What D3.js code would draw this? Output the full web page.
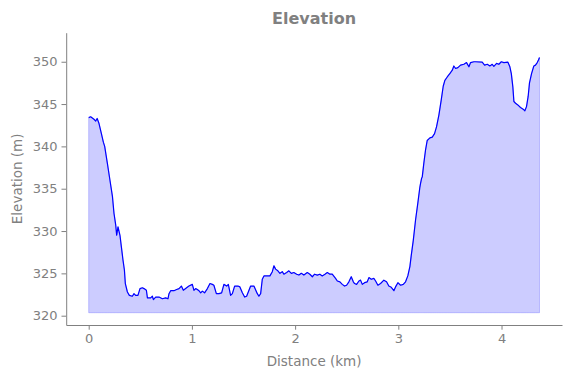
<!DOCTYPE html>
<html lang="en">
    <head>
        <meta charset="utf-8">
        <title>Elevation</title>
        <script src="https://d3js.org/d3.v7.min.js"></script>
        <style>
          body { margin: 0; background: white; }
          text { font-family: "DejaVu Sans", sans-serif; fill: #808080; }
          .axis path, .axis line { stroke: #808080; }
        </style>
    </head>
    <body>
        <script>

          // distance along the track (km) and elevation (m)
          var distance = [0.000, 0.019, 0.051, 0.068, 0.082, 0.100, 0.123, 0.142, 0.155, 0.181,
                          0.206, 0.230, 0.245, 0.262, 0.271, 0.284, 0.303, 0.317, 0.332, 0.346,
                          0.355, 0.375, 0.394, 0.423, 0.439, 0.455, 0.477, 0.497, 0.520, 0.536,
                          0.559, 0.569, 0.600, 0.617, 0.627, 0.649, 0.681, 0.714, 0.746, 0.768,
                          0.778, 0.794, 0.826, 0.852, 0.875, 0.898, 0.917, 0.939, 0.971, 1.004,
                          1.020, 1.036, 1.053, 1.068, 1.085, 1.101, 1.123, 1.150, 1.175, 1.198,
                          1.213, 1.237, 1.262, 1.288, 1.310, 1.337, 1.353, 1.375, 1.392, 1.414,
                          1.446, 1.465, 1.489, 1.511, 1.530, 1.553, 1.569, 1.601, 1.634, 1.649,
                          1.666, 1.682, 1.698, 1.731, 1.756, 1.779, 1.795, 1.811, 1.833, 1.853,
                          1.876, 1.891, 1.918, 1.940, 1.963, 1.988, 2.015, 2.037, 2.060, 2.085,
                          2.118, 2.143, 2.167, 2.189, 2.215, 2.240, 2.263, 2.289, 2.312, 2.337,
                          2.360, 2.392, 2.409, 2.434, 2.457, 2.479, 2.499, 2.521, 2.544, 2.564,
                          2.576, 2.596, 2.618, 2.634, 2.651, 2.673, 2.699, 2.715, 2.738, 2.763,
                          2.780, 2.802, 2.828, 2.860, 2.886, 2.908, 2.932, 2.957, 2.973, 2.996,
                          3.022, 3.048, 3.070, 3.092, 3.112, 3.125, 3.145, 3.167, 3.189, 3.209,
                          3.215, 3.225, 3.232, 3.247, 3.264, 3.280, 3.306, 3.329, 3.351, 3.370,
                          3.393, 3.416, 3.435, 3.451, 3.474, 3.499, 3.523, 3.538, 3.555, 3.577,
                          3.603, 3.635, 3.661, 3.684, 3.700, 3.732, 3.748, 3.813, 3.836, 3.862,
                          3.887, 3.910, 3.926, 3.952, 3.974, 3.998, 4.023, 4.062, 4.081, 4.095,
                          4.110, 4.120, 4.136, 4.158, 4.184, 4.210, 4.226, 4.242, 4.258, 4.271,
                          4.291, 4.313, 4.329, 4.346, 4.358, 4.368];

          var elevation = [343.4, 343.5, 343.2, 343.0, 343.3, 342.7, 341.5, 340.5, 340.0, 338.0,
                           336.0, 334.1, 332.1, 330.7, 329.5, 330.5, 329.5, 328.1, 326.6, 325.4,
                           323.8, 322.8, 322.4, 322.3, 322.6, 322.4, 322.4, 323.2, 323.3, 323.2,
                           323.0, 322.1, 322.1, 322.3, 321.9, 322.2, 322.2, 322.0, 322.1, 322.0,
                           322.6, 322.95, 322.95, 323.1, 323.2, 323.5, 323.0, 323.2, 323.5, 323.7,
                           323.0, 323.2, 323.1, 322.95, 322.7, 322.9, 322.7, 323.2, 323.8, 323.7,
                           323.6, 322.6, 322.6, 322.7, 323.7, 323.5, 323.7, 322.4, 322.6, 323.5,
                           323.5, 323.4, 322.7, 322.2, 322.3, 323.0, 323.5, 323.5, 322.6, 322.3,
                           322.6, 324.3, 324.7, 324.7, 324.7, 325.2, 325.9, 325.5, 325.3, 325.0,
                           325.2, 324.9, 325.1, 325.3, 325.0, 325.1, 324.9, 324.8, 325.0, 324.8,
                           325.1, 324.9, 324.6, 324.9, 324.8, 324.9, 324.7, 324.9, 325.1, 324.9,
                           324.9, 324.4, 324.1, 324.0, 323.7, 323.5, 323.6, 324.0, 324.6, 324.0,
                           323.8, 323.7, 324.1, 324.2, 323.7, 323.9, 324.0, 324.5, 324.3, 324.4,
                           324.1, 323.6, 323.8, 324.2, 324.0, 323.5, 323.35, 322.95, 323.4, 323.9,
                           323.6, 323.7, 324.0, 324.7, 325.8, 327.1, 328.9, 331.3, 333.3, 335.2,
                           335.6, 336.2, 336.4, 338.0, 339.6, 340.7, 341.0, 341.1, 341.5, 342.3,
                           343.7, 345.5, 347.1, 347.8, 348.2, 348.6, 349.0, 349.5, 349.2, 349.3,
                           349.6, 349.7, 349.9, 349.4, 349.9, 350.0, 350.0, 349.95, 349.6, 349.7,
                           349.5, 349.7, 349.45, 349.8, 349.7, 350.0, 349.9, 349.95, 349.4, 348.6,
                           347.0, 345.3, 345.1, 344.9, 344.6, 344.4, 344.2, 344.7, 345.9, 347.5,
                           348.6, 349.5, 349.6, 349.9, 350.2, 350.5];

          var fillBase = 320.35;
          var xTicks = [0, 1, 2, 3, 4];
          var yTicks = [320, 325, 330, 335, 340, 345, 350];

          var width = 571,
              height = 378;
          var margin = {top: 32.7, right: 9, bottom: 53, left: 66.2};

          var svg = d3.select("body").append("svg")
                      .attr("width", width)
                      .attr("height", height);

          var x = d3.scaleLinear()
                    .domain([-0.218, 4.586])
                    .range([margin.left, width - margin.right]);

          var y = d3.scaleLinear()
                    .domain([318.9, 353.43])
                    .range([height - margin.bottom, margin.top]);

          var data = distance.map(function(d, i) { return [d, elevation[i]]; });

          // shaded area under the profile
          var area = d3.area()
                       .x(function(d) { return x(d[0]); })
                       .y0(y(fillBase))
                       .y1(function(d) { return y(d[1]); });

          svg.append("path")
             .datum(data)
             .attr("d", area)
             .attr("fill", "blue")
             .attr("fill-opacity", 0.2)
             .attr("stroke", "blue")
             .attr("stroke-opacity", 0.2)
             .attr("stroke-width", 1);

          var line = d3.line()
                       .x(function(d) { return x(d[0]); })
                       .y(function(d) { return y(d[1]); });

          svg.append("path")
             .datum(data)
             .attr("d", line)
             .attr("fill", "none")
             .attr("stroke", "blue")
             .attr("stroke-width", 1.2)
             .attr("stroke-linejoin", "round");

          // axes
          svg.append("g")
             .attr("class", "axis")
             .attr("transform", "translate(0," + (height - margin.bottom) + ")")
             .call(d3.axisBottom(x).tickValues(xTicks).tickFormat(d3.format("d"))
                     .tickSize(4.7).tickPadding(4).tickSizeOuter(0))
             .call(function(g) { g.selectAll("text").style("font-size", "13px").attr("font-family", null); });

          svg.append("g")
             .attr("class", "axis")
             .attr("transform", "translate(" + margin.left + ",0)")
             .call(d3.axisLeft(y).tickValues(yTicks).tickFormat(d3.format("d"))
                     .tickSize(4.7).tickPadding(4).tickSizeOuter(0))
             .call(function(g) { g.selectAll("text").style("font-size", "13px").attr("font-family", null); });

          svg.selectAll(".axis .domain").attr("stroke", "#808080");

          // labels and title
          svg.append("text")
             .attr("x", (margin.left + width - margin.right) / 2)
             .attr("y", 366)
             .attr("text-anchor", "middle")
             .style("font-size", "13.5px")
             .text("Distance (km)");

          svg.append("text")
             .attr("transform", "translate(22," + ((margin.top + height - margin.bottom) / 2) + ") rotate(-90)")
             .attr("text-anchor", "middle")
             .style("font-size", "13.5px")
             .text("Elevation (m)");

          svg.append("text")
             .attr("x", (margin.left + width - margin.right) / 2)
             .attr("y", 24)
             .attr("text-anchor", "middle")
             .style("font-size", "16px")
             .style("font-weight", "bold")
             .text("Elevation");

        </script>
    </body>
</html>
